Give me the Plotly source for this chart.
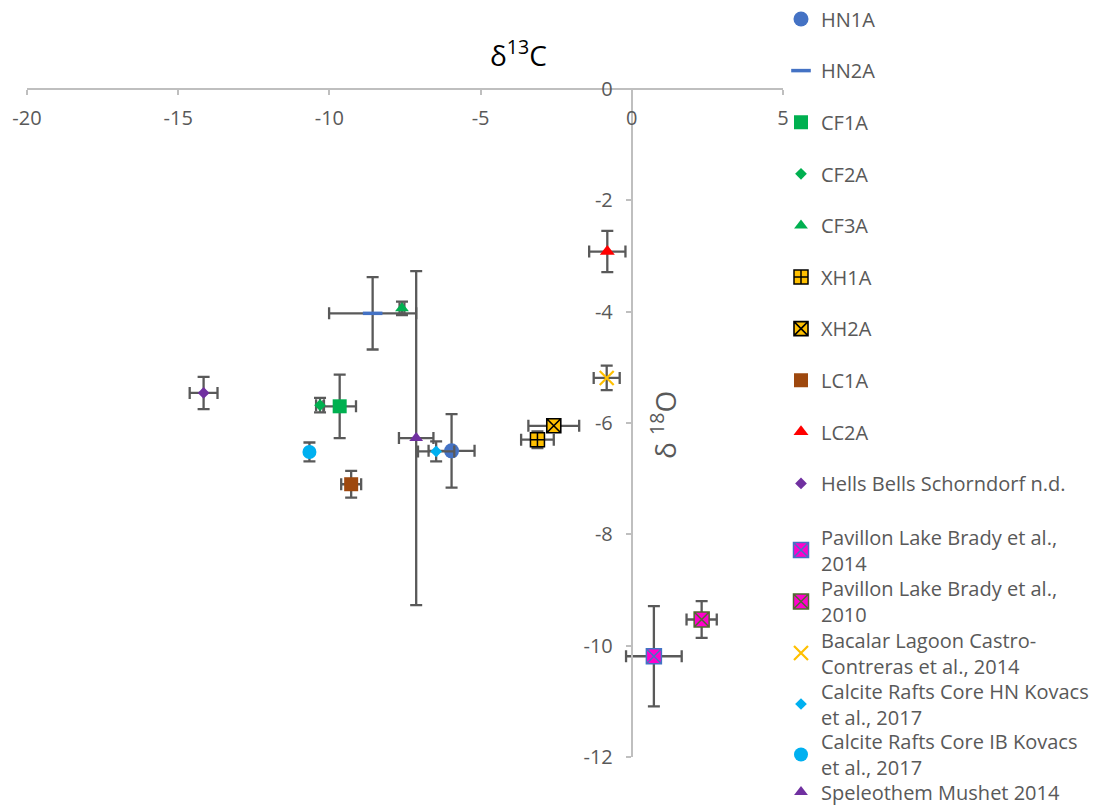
import plotly.graph_objects as go

# Stable isotope data: delta 13C (x) vs delta 18O (y), with symmetric 1-sigma error bars
names = [
    "HN1A", "HN2A", "CF1A", "CF2A", "CF3A", "XH1A", "XH2A", "LC1A", "LC2A",
    "Hells Bells Schorndorf n.d.",
    "Pavillon Lake Brady et al.,<br>2014",
    "Pavillon Lake Brady et al.,<br>2010",
    "Bacalar Lagoon Castro-<br>Contreras et al., 2014",
    "Calcite Rafts Core HN Kovacs<br>et al., 2017",
    "Calcite Rafts Core IB Kovacs<br>et al., 2017",
    "Speleothem Mushet 2014",
]
d13c = [-5.96, -8.57, -9.66, -10.31, -7.60, -3.12, -2.58, -9.28, -0.81,
        -14.16, 0.73, 2.31, -0.83, -6.47, -10.66, -7.13]
d18o = [-6.50, -4.03, -5.70, -5.68, -3.94, -6.30, -6.05, -7.10, -2.92,
        -5.46, -10.19, -9.53, -5.19, -6.51, -6.52, -6.27]
err_c = [0.76, 1.44, 0.54, 0.13, 0.08, 0.54, 0.84, 0.33, 0.60,
         0.46, 0.92, 0.50, 0.43, 0.60, 0.08, 0.57]
err_o = [0.66, 0.65, 0.57, 0.13, 0.12, 0.15, 0.10, 0.24, 0.37,
         0.29, 0.90, 0.33, 0.22, 0.18, 0.17, 3.00]

x_ticks = [-20, -15, -10, -5, 0, 5]
y_ticks = [0, -2, -4, -6, -8, -10, -12]

# marker styling per series: (symbol, size, fill, line colour, line width)
styles = [
    ("circle", 15, "#4472C4", "#4472C4", 0),
    ("line-ew", 14, "#4472C4", "#4472C4", 3.5),
    ("square", 14, "#00B050", "#00B050", 0),
    ("diamond", 9, "#00B050", "#00B050", 0),
    ("triangle-up", 12, "#00B050", "#00B050", 0),
    ("square-cross", 14, "#FFC000", "#000000", 1.5),
    ("square-x", 14, "#FFC000", "#000000", 1.6),
    ("square", 14, "#9E480E", "#9E480E", 0),
    ("triangle-up", 13, "#FF0000", "#FF0000", 0),
    ("diamond", 9, "#7030A0", "#7030A0", 0),
    ("square-x", 15, "#FF00CC", "#4472C4", 1.5),
    ("square-x", 15, "#FF00CC", "#4E6B2E", 1.5),
    ("x-thin-open", 14, "#FFC000", "#FFC000", 2.2),
    ("diamond", 9, "#00B0F0", "#00B0F0", 0),
    ("circle", 14, "#00B0F0", "#00B0F0", 0),
    ("triangle-up", 12, "#7030A0", "#7030A0", 0),
]

FONT = "Open Sans, Lato, sans-serif"
GREY_TXT = "#595959"
ERR_COL = "#595959"

# plot-area geometry (pixels)
W, H = 1107, 807
ML, MR, MT, MB = 27, 324, 89, 50
PW, PH = W - ML - MR, H - MT - MB

# vertical centre of each legend entry (pixels from the top of the page)
legend_centres = [19, 70.6, 122.2, 173.8, 225.4, 277, 328.6, 380.2, 431.8,
                  483.4, 550, 601.5, 653, 704, 754.5, 792]

fig = go.Figure()
legend_layout = {}
for i, name in enumerate(names):
    sym, size, fill, lc, lw = styles[i]
    leg = "legend" if i == 0 else f"legend{i + 1}"
    fig.add_trace(go.Scatter(
        x=[d13c[i]], y=[d18o[i]], mode="markers", name=name, legend=leg,
        marker=dict(symbol=sym, size=size, color=fill,
                    line=dict(color=lc, width=lw)),
        error_x=dict(type="data", array=[err_c[i]], color=ERR_COL,
                     thickness=2.3, width=6),
        error_y=dict(type="data", array=[err_o[i]], color=ERR_COL,
                     thickness=2.3, width=6),
        cliponaxis=False,
    ))
    legend_layout[leg] = dict(
        xref="container", yref="container",
        x=781 / W, xanchor="left",
        y=1 - legend_centres[i] / H, yanchor="middle",
        bgcolor="rgba(0,0,0,0)", borderwidth=0,
        font=dict(family=FONT, size=20, color=GREY_TXT),
        itemsizing="trace", tracegroupgap=0,
    )

fig.update_layout(
    width=W, height=H,
    margin=dict(l=ML, r=MR, t=MT, b=MB, pad=0, autoexpand=False),
    paper_bgcolor="white", plot_bgcolor="white",
    showlegend=True,
    font=dict(family=FONT, size=20, color=GREY_TXT),
    xaxis=dict(
        range=[-20, 5], domain=[0, 1],
        tickvals=x_ticks, ticktext=[str(v) for v in x_ticks],
        showgrid=False, zeroline=False,
        showline=True, linecolor="#BFBFBF", linewidth=2,
        ticks="outside", ticklen=5, tickwidth=1.5, tickcolor="#BFBFBF",
        anchor="free", position=1, side="bottom", ticklabelstandoff=6,
        tickfont=dict(family=FONT, size=20, color=GREY_TXT),
    ),
    yaxis=dict(
        range=[-12, 0], domain=[0, 1],
        tickvals=y_ticks, ticktext=[str(v) for v in y_ticks],
        showgrid=False, zeroline=False,
        showline=True, linecolor="#BFBFBF", linewidth=2,
        ticks="outside", ticklen=5, tickwidth=1.5, tickcolor="#BFBFBF",
        anchor="free", position=20 / 25, side="left", ticklabelstandoff=9,
        tickfont=dict(family=FONT, size=20, color=GREY_TXT),
    ),
    **legend_layout,
    annotations=[
        dict(text="δ<sup>13</sup>C", xref="paper", yref="paper",
             x=(518 - ML) / PW, y=(H - MB - 54) / PH,
             xanchor="center", yanchor="middle",
             showarrow=False, font=dict(family=FONT, size=28, color="#000000")),
        dict(text="δ <sup>18</sup>O", xref="paper", yref="paper",
             x=(663 - ML) / PW, y=(H - MB - 425) / PH, textangle=-90,
             xanchor="center", yanchor="middle",
             showarrow=False, font=dict(family=FONT, size=28, color=GREY_TXT)),
    ],
)

fig.write_html("out.html")
